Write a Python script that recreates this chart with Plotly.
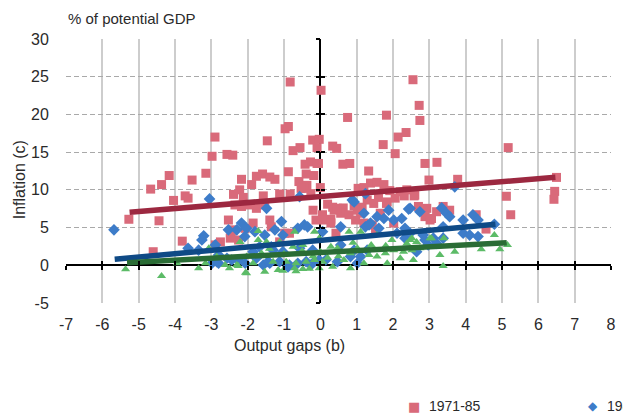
import plotly.graph_objects as go

# ---- data ----
pink_x = [-0.83, 0.02, -2.9, -0.97, -0.88, -1.46, -2.98, -2.57, -2.41, -0.75, -0.56, -0.21, -0.03, -0.09,
          -4.67, -4.37, -4.16, -4.04, -3.53, -3.15, -3.72, -3.64, -2.17, -1.89, -1.76, -1.59, -1.39, -1.25,
          -0.88, -0.59, -0.42, -0.27, -0.09, -0.39, -0.18, -0.37, -0.46, -2.22, -2.39, -2.12, -1.57, -1.12,
          -0.83, 0.0, -0.2,
          2.55, 2.72, 2.74, 0.75, 1.82, 2.14, 2.36, 1.73, 2.06, 0.34, 0.45, 0.62, 0.81, 1.33, 2.88, 3.21,
          5.17, 2.99, 3.78, 6.5, 6.45, 6.43, 5.12, 1.38, 1.56, 1.75, 1.04, 1.2, 1.91, 2.2, 2.31, 2.58, 1.6,
          1.82, 0.2, 0.34, 0.63, 0.93, 1.15, -0.05, 2.7, 2.93,
          5.24, 4.56, 0.38, 0.06, 0.29, 0.56, 1.11, 0.97, 1.2, 1.47, 2.88, 3.02, 2.38, 2.6, 3.38, 3.56,
          -0.26, -0.53, 1.29, 1.65, 2.02, 0.43,
          -2.53, -2.39, -2.07, -1.85, -1.39, -1.35, -2.35, -2.17, -1.94, -1.76, -1.53, -2.48, -2.75, -2.89,
          -0.12, -0.98, -0.85, -1.12,
          -5.27, -4.44, -3.8, -4.6, -2.45, -2.25,
          3.06, 3.2, 4.29, 0.47, 0.79, 1.02, 0.11, 1.84, 2.06, 1.43, 1.52, 0.29]
pink_y = [24.3, 23.2, 17.0, 18.1, 18.4, 16.5, 14.45, 14.7, 14.6, 15.2, 15.6, 16.6, 16.7, 15.6,
          10.1, 10.7, 11.9, 8.6, 11.3, 12.2, 9.2, 8.9, 11.4, 10.7, 11.8, 12.1, 11.7, 11.4,
          12.4, 11.1, 13.4, 13.7, 13.5, 12.1, 11.9, 10.6, 10.2, 10.0, 9.4, 9.0, 9.2, 9.45,
          9.45, 10.3, 7.3,
          24.6, 21.2, 19.2, 19.6, 19.9, 17.0, 17.6, 16.0, 14.8, 15.8, 15.5, 13.4, 13.5, 12.5, 13.5, 13.65,
          15.6, 11.3, 11.4, 11.65, 9.8, 8.75, 9.15, 10.9, 11.0, 10.7, 10.2, 10.3, 9.9, 9.75, 9.2, 9.2, 9.0,
          8.2, 8.1, 7.7, 7.6, 7.9, 7.7, 13.5, 7.8, 7.55,
          6.7, 4.8, 7.3, 6.7, 6.1, 6.9, 6.9, 6.0, 5.6, 8.2, 6.45, 6.0, 10.0, 9.3, 7.8, 7.3,
          9.5, 10.2, 8.65, 6.9, 5.6, 4.25,
          6.0, 4.7, 4.9, 5.6, 6.0, 5.1, 8.0, 7.8, 8.0, 7.55, 8.0, 3.6, 3.1, 2.7,
          6.0, 4.25, 4.25, 3.1,
          6.1, 5.9, 3.2, 1.8, 4.0, 3.35,
          6.2, 7.1, 6.7, 7.55, 6.7, 7.3, 6.0, 8.4, 8.9, 5.35, 4.45, 5.6]

blue_x = [-5.68, -3.05, -3.64, -3.35, -3.21, -3.26, -2.89, -2.8, -2.98, -2.53, -2.3, -2.17, -2.03, -2.08,
          -1.48, -1.07, -1.25, -1.53, -1.8, -1.67, -1.35, -0.57, -0.62, -0.44, -0.35, -1.57, -1.39, -2.07,
          -2.26, -2.44, -2.85, -0.89, -0.62, -0.26, -1.03,
          -2.8, -2.57, -1.76, -1.44, -1.12, -0.85, -0.39, -0.21, -0.03,
          -1.85, -1.3, -1.03, -0.57, -0.21,
          0.06, 0.56, 0.88, 1.88, 1.75, 2.02, 2.24, 2.47, 2.74, 2.33, 1.24, 1.38, 1.61, 2.11, 2.33, 1.02,
          0.15, 0.47, 0.56, 0.93, 1.29, 0.83, 1.11,
          0.93, 1.24, 2.43, 3.34, 3.7,
          1.2, 1.34, 1.56, 2.47, 2.83, 3.11, 3.47, 3.56, 3.93, 4.2, 4.34, 3.38, 3.93, 4.11, 4.34, 4.79,
          2.65, 3.2, 3.38, 2.88, 2.97]
blue_y = [4.7, 8.8, 2.25, 2.0, 3.9, 3.35, 2.7, 0.27, 0.27, 4.7, 4.7, 5.6, 4.9, 3.8,
          7.55, 5.8, 4.7, 4.0, 4.45, 2.45, 2.45, 9.1, 4.9, 5.35, 5.1, 0.04, 0.27, 0.27,
          0.7, 0.7, 0.48, -0.2, 0.27, 0.04, 4.0,
          1.37, 0.93, 0.93, 0.48, 0.48, 0.04, 0.48, 0.27, 0.7,
          1.8, 2.0, 1.8, 2.25, 2.0,
          4.45, 5.1, 8.65, 7.3, 6.2, 6.0, 6.2, 7.55, 7.1, 4.9, 5.1, 5.6, 4.9, 4.25, 3.6, 0.27,
          0.7, 0.48, 2.7, 2.0, 2.0, 1.15, 1.15,
          8.4, 9.5, 7.45, 7.6, 10.4,
          6.9, 5.35, 6.45, 4.25, 4.0, 3.6, 6.9, 6.45, 6.0, 6.7, 6.0, 5.1, 4.25, 4.0, 3.8, 5.44,
          1.8, 2.9, 3.6, 3.35, 2.7]

green_x = [-5.36, -4.37, -3.94, -3.35, -3.16, -3.07, -2.85, -2.5, -2.26, -2.06, -2.03, -2.21, -1.71, -1.62,
           -1.53, -1.16, -1.03, -0.71, -0.48, -0.3, -0.71, -0.16,
           -2.03, -0.67, -0.03,
           -1.71, -1.48, -1.12, -0.75, -0.48, -0.03,
           -2.62, -2.3, -1.85, -1.3, -0.94, -0.67, -0.39, -0.16,
           0.06, 0.34, 0.83, 1.2, 1.84, 2.2, 2.56, 0.29, 0.47, 0.65, 0.83, 1.02, 1.34, 1.56, 1.79, 2.02,
           2.29, 2.52, 2.74, 0.79, 1.11, 1.56, 1.97, 2.47,
           3.02, 3.29, 3.38, 3.7, 4.43, 4.79, 4.94, 5.15, 2.65, 2.52, 2.38, 3.06, 3.4,
           -1.0, -0.5, 0.0, 0.5, -1.4, -0.2, 0.2, 1.4, 0.9, 1.8]
green_y = [-0.53, -1.42, 0.27, -0.4, 0.27, 2.25, 1.15, -0.4, -0.1, -0.98, 1.15, 3.1, 3.35, 1.6,
           -0.85, -0.62, -0.72, -0.4, -0.5, -0.45, 4.45, 4.45,
           -1.06, -0.8, -0.4,
           4.55, 3.1, 3.1, 2.45, 2.7, 3.6,
           0.04, 0.04, 0.27, 0.48, 0.48, 0.27, 0.48, 0.7,
           0.48, -0.2, -0.4, 0.27, 0.27, 0.93, 0.7, 2.45, 2.25, 0.7, 1.6, 2.25, 1.37, 1.15, 1.6, 2.0,
           1.8, 2.0, 2.25, 4.45, 4.45, 4.0, 3.35, 3.35,
           3.6, 1.37, -0.1, 1.8, 2.12, 4.0, 2.12, 2.7, 3.1, 3.6, 2.9, 3.6, 3.6,
           1.5, 1.9, 1.8, 1.2, 2.2, 1.2, 1.0, 2.7, 3.0, 2.6]

trend_red_x = [-5.25, 6.47]
trend_red_y = [7.03, 11.67]
trend_blue_x = [-5.66, 4.82]
trend_blue_y = [0.8, 5.44]
trend_green_x = [-5.32, 5.13]
trend_green_y = [0.35, 3.0]

x_ticks = list(range(-7, 9))
y_ticks = list(range(-5, 31, 5))

legend_labels = ["1971-85", "1986-99"]

# ---- styles ----
PINK = "#D96A7A"
BLUE = "#3D7CC9"
GREEN = "#5CBB67"
RED_T = "#9C2840"
BLUE_T = "#0F4A86"
GREEN_T = "#2A6C35"
FONT = "Liberation Sans, Arial, sans-serif"
TXT = "#2a2a2a"

fig = go.Figure()
fig.add_trace(go.Scatter(x=pink_x, y=pink_y, mode="markers",
                         marker=dict(symbol="square", size=9, color=PINK, line=dict(width=0)),
                         name=legend_labels[0], showlegend=False))
fig.add_trace(go.Scatter(x=blue_x, y=blue_y, mode="markers",
                         marker=dict(symbol="diamond", size=9, color=BLUE, line=dict(width=0)),
                         name=legend_labels[1], showlegend=False))
fig.add_trace(go.Scatter(x=green_x, y=green_y, mode="markers",
                         marker=dict(symbol="triangle-up", size=8, color=GREEN, line=dict(width=0)),
                         showlegend=False))
for tx, ty, c in [(trend_red_x, trend_red_y, RED_T), (trend_blue_x, trend_blue_y, BLUE_T),
                  (trend_green_x, trend_green_y, GREEN_T)]:
    fig.add_trace(go.Scatter(x=tx, y=ty, mode="lines", line=dict(color=c, width=5.5),
                             showlegend=False, hoverinfo="skip"))

# dummy traces so the crossing-tick overlay axes are drawn
for xa, ya in [("x2", "y"), ("x3", "y"), ("x", "y2"), ("x", "y3")]:
    fig.add_trace(go.Scatter(x=[None], y=[None], xaxis=xa, yaxis=ya, showlegend=False, hoverinfo="skip"))

xr = [-7, 8]
yr = [-5, 30]
ypos0 = (0 - yr[0]) / (yr[1] - yr[0])
xpos0 = (0 - xr[0]) / (xr[1] - xr[0])

common_tick = dict(tickfont=dict(family=FONT, size=16, color=TXT))
fig.update_layout(
    width=623, height=414,
    margin=dict(l=66, r=7, t=39, b=111),
    paper_bgcolor="white", plot_bgcolor="white",
    showlegend=False,
    xaxis=dict(range=xr, tickvals=x_ticks, ticktext=[str(v) for v in x_ticks],
               showgrid=True, gridcolor="#CDCDCD", gridwidth=1.5,
               zeroline=True, zerolinecolor="black", zerolinewidth=1.5,
               showline=False, ticks="outside", ticklen=7, tickcolor="rgba(0,0,0,0)",
               **common_tick),
    yaxis=dict(range=yr, tickvals=y_ticks, ticktext=[str(v) for v in y_ticks],
               showgrid=True, gridcolor="#A9A9A9", gridwidth=1, griddash="5px,3px",
               zeroline=True, zerolinecolor="black", zerolinewidth=1.5,
               showline=False, ticks="outside", ticklen=13, tickcolor="rgba(0,0,0,0)",
               **common_tick),
    xaxis2=dict(range=xr, tickvals=x_ticks, overlaying="x", anchor="free", position=ypos0,
                side="bottom", ticks="outside", ticklen=4, tickwidth=1.5, tickcolor="black",
                showticklabels=False, showgrid=False, zeroline=False, showline=False),
    xaxis3=dict(range=xr, tickvals=x_ticks, overlaying="x", anchor="free", position=ypos0,
                side="bottom", ticks="inside", ticklen=4, tickwidth=1.5, tickcolor="black",
                showticklabels=False, showgrid=False, zeroline=False, showline=False),
    yaxis2=dict(range=yr, tickvals=y_ticks, overlaying="y", anchor="free", position=xpos0,
                side="left", ticks="outside", ticklen=4, tickwidth=1.5, tickcolor="black",
                showticklabels=False, showgrid=False, zeroline=False, showline=False),
    yaxis3=dict(range=yr, tickvals=y_ticks, overlaying="y", anchor="free", position=xpos0,
                side="left", ticks="inside", ticklen=4, tickwidth=1.5, tickcolor="black",
                showticklabels=False, showgrid=False, zeroline=False, showline=False),
)

ann = [
    dict(text="% of potential GDP", x=0.0, y=1.0795, xanchor="left", yanchor="middle",
         font=dict(family=FONT, size=15, color=TXT)),
    dict(text="Inflation (c)", x=-0.0855, y=0.4665, xanchor="center", yanchor="middle", textangle=-90,
         font=dict(family=FONT, size=16, color=TXT)),
    dict(text="Output gaps (b)", x=0.411, y=-0.1616, xanchor="center", yanchor="middle",
         font=dict(family=FONT, size=16, color=TXT)),
    dict(text="■", x=0.638, y=-0.392, xanchor="center", yanchor="middle",
         font=dict(family="DejaVu Sans", size=13, color=PINK)),
    dict(text=legend_labels[0], x=0.6618, y=-0.392, xanchor="left", yanchor="middle",
         font=dict(family=FONT, size=14, color=TXT)),
    dict(text="◆", x=0.967, y=-0.392, xanchor="center", yanchor="middle",
         font=dict(family="DejaVu Sans", size=12, color=BLUE)),
    dict(text=legend_labels[1], x=0.9895, y=-0.392, xanchor="left", yanchor="middle",
         font=dict(family=FONT, size=14, color=TXT)),
]
for a in ann:
    a.update(xref="paper", yref="paper", showarrow=False)
fig.update_layout(annotations=ann)

fig.write_html("out.html", config={"displayModeBar": False},
               post_script="document.body.style.margin='0';document.body.style.overflow='hidden';")
